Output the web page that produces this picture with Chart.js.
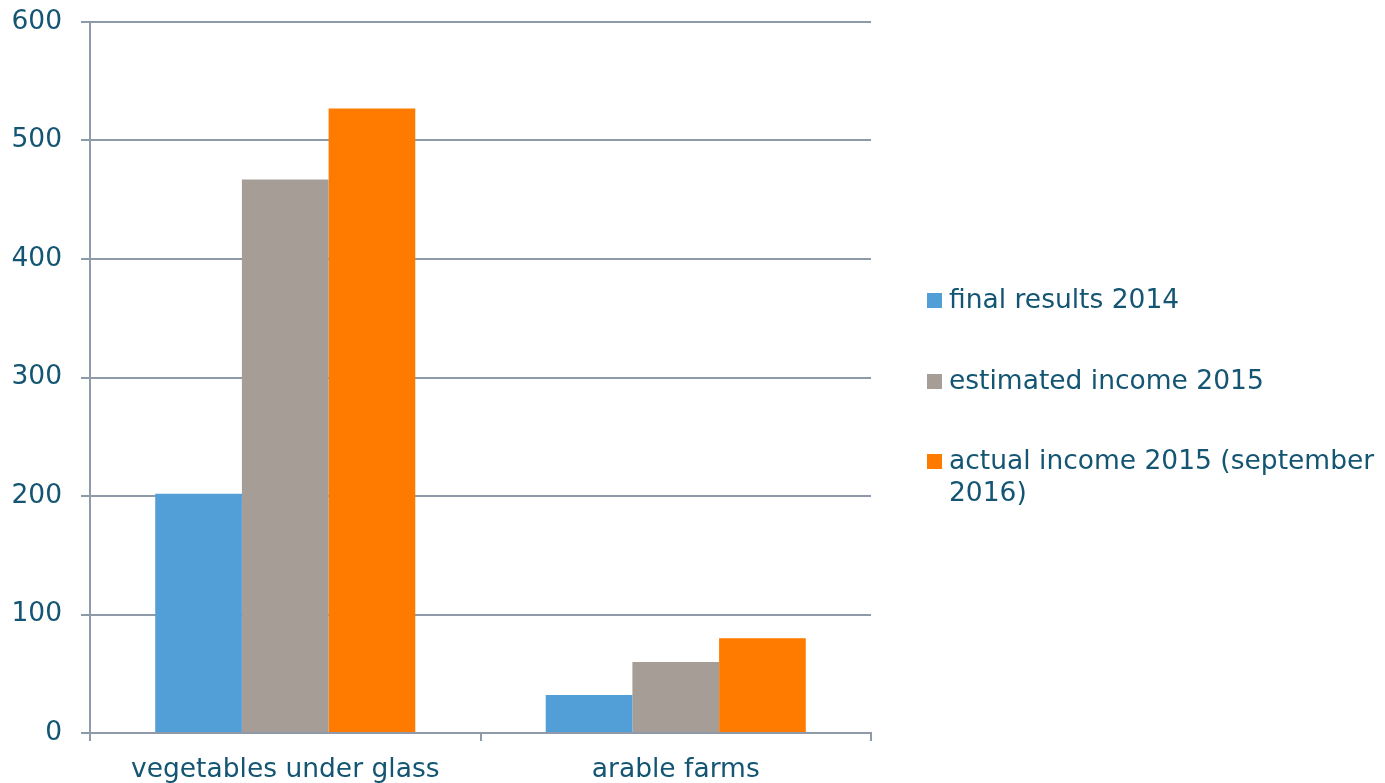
<!DOCTYPE html>
<html>
<head>
<meta charset="utf-8">
<script src="https://cdn.jsdelivr.net/npm/chart.js@4"></script>
<style>
  html, body { margin: 0; padding: 0; background: #fff; overflow: hidden; }
  #wrap { position: relative; width: 1385px; height: 783px; overflow: hidden; }
  #legend { position: absolute; left: 927px; top: 283px; width: 458px; margin: 0; padding: 0; list-style: none;
    font-family: "DejaVu Sans", Verdana, sans-serif; font-size: 26.5px; color: #135572; line-height: 32px; }
  #legend li { position: relative; padding-left: 22px; margin-bottom: 48.5px; }
  #legend li span.box { position: absolute; left: 0; top: 10px; width: 15px; height: 15px; }
</style>
</head>
<body>
<div id="wrap">
  <canvas id="chart" width="1385" height="790"></canvas>
  <ul id="legend"></ul>
</div>
<script>
const categories = ["vegetables under glass", "arable farms"];
const seriesNames = ["final results 2014", "estimated income 2015", "actual income 2015 (september 2016)"];
const finalResults2014 = [202, 32];
const estimatedIncome2015 = [467, 60];
const actualIncome2015 = [527, 80];
const yTicks = [0, 100, 200, 300, 400, 500, 600];

const colors = ["#529fd7", "#a59d96", "#ff7b00"];
const textColor = "#135572";
const gridColor = "#8e9aa8";
const fontFamily = '"DejaVu Sans", Verdana, sans-serif';

const values = [finalResults2014, estimatedIncome2015, actualIncome2015];

new Chart(document.getElementById("chart"), {
  type: "bar",
  data: {
    labels: categories,
    datasets: seriesNames.map((name, i) => ({
      label: name,
      data: values[i],
      backgroundColor: colors[i],
      borderWidth: 0,
      categoryPercentage: 0.666,
      barPercentage: 1
    }))
  },
  options: {
    responsive: false,
    animation: false,
    layout: { padding: { left: 11, right: 514, top: 22, bottom: 7 } },
    plugins: { legend: { display: false }, tooltip: { enabled: false } },
    scales: {
      x: {
        afterFit: (axis) => {
          // fixed band under the plot, no extra side padding
          axis.height = 50;
          axis.paddingLeft = 0;
          axis.paddingRight = 0;
        },
        grid: { drawOnChartArea: false, drawTicks: true, tickLength: 8, color: gridColor, lineWidth: 2 },
        border: { color: gridColor, width: 2 },
        ticks: { color: textColor, font: { family: fontFamily, size: 26.5 }, padding: 13 }
      },
      y: {
        min: 0,
        max: 600,
        afterBuildTicks: (axis) => { axis.ticks = yTicks.map(v => ({ value: v })); },
        afterFit: (axis) => {
          axis.width = 79;
          axis.paddingTop = 0;
          axis.paddingBottom = 0;
        },
        grid: { color: gridColor, lineWidth: 2, tickLength: 9 },
        border: { color: gridColor, width: 2 },
        ticks: { color: textColor, font: { family: fontFamily, size: 26.5 }, padding: 19 }
      }
    }
  }
});

// legend drawn as html so the last label can wrap like the original
const legend = document.getElementById("legend");
seriesNames.forEach((name, i) => {
  const li = document.createElement("li");
  const box = document.createElement("span");
  box.className = "box";
  box.style.background = colors[i];
  li.appendChild(box);
  li.appendChild(document.createTextNode(name));
  legend.appendChild(li);
});
</script>
</body>
</html>
